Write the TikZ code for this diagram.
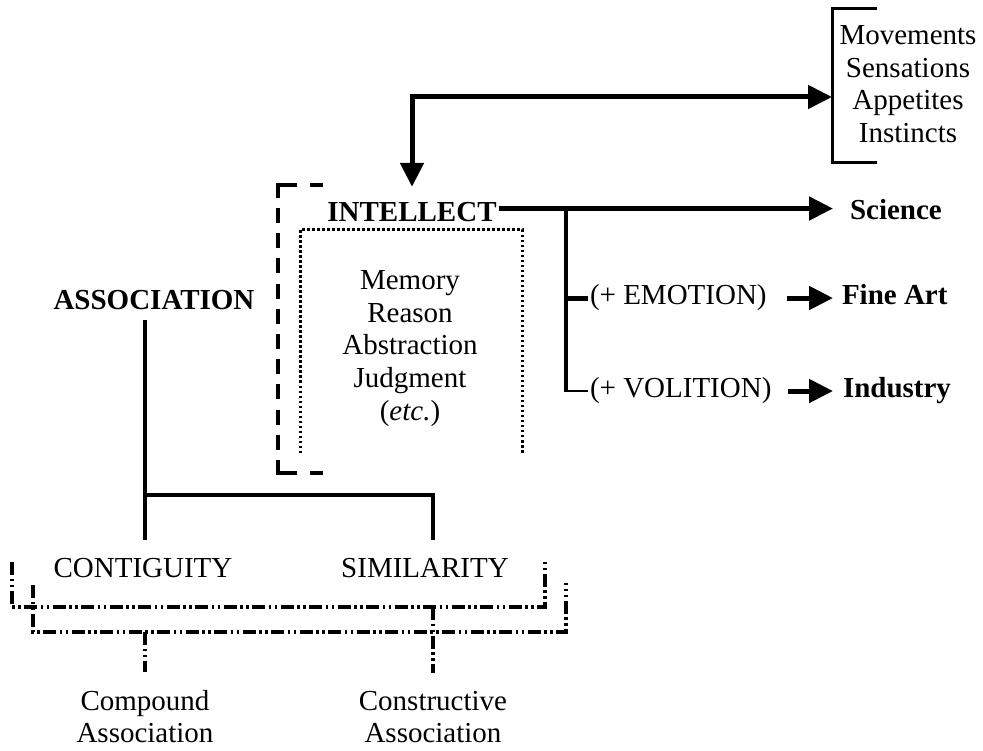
\documentclass[tikz,border=0pt]{standalone}
\usepackage{fontspec}
\setmainfont{Liberation Serif}
\usetikzlibrary{arrows.meta}
\begin{document}
\begin{tikzpicture}[x=1pt,y=-1pt,
  every node/.style={font=\fontsize{29}{32.5}\selectfont, inner sep=2pt, outer sep=0pt},
  txt/.style={anchor=base},
  addend/.style={anchor=base west},
  heading/.style={anchor=base, font=\fontsize{29}{32.5}\selectfont\bfseries},
  heavy/.style={line width=5pt},
  tree/.style={line width=4pt},
  arrowed/.style={-{Triangle[length=24pt,width=23pt]}},
  dashdot/.style={line width=3.5pt, dash pattern=on 13pt off 3.5pt on 2.5pt off 3.5pt on 2.5pt off 3.5pt},
  finedots/.style={line width=3pt, dash pattern=on 2.5pt off 2.5pt},
  bigdash/.style={line width=4.5pt}
]
\useasboundingbox (0,0) rectangle (983,751);

% --- bodily powers, bracketed on the left
\node[txt] (movements)  at (908,45)    {Movements};
\node[txt] (sensations) at (908,77.5)  {Sensations};
\node[txt] (appetites)  at (908,110)   {Appetites};
\node[txt] (instincts)  at (908,142.5) {Instincts};
\draw[line width=3pt] (877,9) -- (832,9) -- (832,163) -- (877,163);
\coordinate (senses) at (832,97);

% --- intellect and its link with the bodily powers
\node[heading] (intellect) at (412,222) {INTELLECT};
\draw[heavy, {Triangle[length=24pt,width=23pt]}-{Triangle[length=24pt,width=23pt]}, shorten <=14pt]
  (intellect.north) |- (senses);

% dashed bracket round the intellect
\draw[bigdash, dash pattern=on 15pt off 10.2pt] (278,182.75) -- (278,475.25);
\draw[bigdash, dash pattern=on 19pt off 13pt on 13pt off 20pt] (278,185) -- (323,185);
\draw[bigdash, dash pattern=on 19pt off 13pt on 13pt off 20pt] (278,473) -- (323,473);

% dotted box of faculties
\draw[finedots] (300,453) -- (300,230) -- (522,230) -- (522,453);
\node[txt] (memory)      at (410,290)   {Memory};
\node[txt] (reason)      at (410,322.5) {Reason};
\node[txt] (abstraction) at (410,355)   {Abstraction};
\node[txt] (judgment)    at (410,387.5) {Judgment};
\node[txt] (etc)         at (410,420)   {(\textit{etc.})};

% --- products of the intellect
\coordinate (ie) at ([yshift=4pt]intellect.east);
\node[heading, anchor=base west] (science)  at (848,220) {Science};
\node[addend] (emotion)  at (588,305) {(+ EMOTION)};
\node[addend] (volition) at (588,398) {(+ VOLITION)};
\node[heading, anchor=base west] (fineart)  at (840,305) {Fine Art};
\node[heading, anchor=base west] (industry) at (841,398) {Industry};

\draw[heavy, arrowed, shorten >=15pt] (ie) -- (ie -| science.west);
\coordinate (fork) at (566,208.4);
\draw[tree] (fork) -- (fork |- volition.west);
\draw[heavy] (fork |- emotion.west) -- (emotion.west);
\draw[line width=2.5pt] ([xshift=-2pt]fork |- volition.west) -- (volition.west);
\draw[heavy, arrowed] ([xshift=-53pt]emotion.east -| fineart.west) -- ([xshift=-7pt]emotion.east -| fineart.west);
\draw[heavy, arrowed] ([xshift=-53pt]volition.east -| industry.west) -- ([xshift=-8pt]volition.east -| industry.west);

% --- association and its two laws
\node[heading] (association) at (154,310) {ASSOCIATION};
\node[txt] (contiguity) at (143,577) {CONTIGUITY};
\node[txt] (similarity) at (425,577) {SIMILARITY};
\coordinate (cfoot) at (145,540);
\coordinate (sfoot) at (433,540);
\coordinate (join)  at (145,495);
\draw[tree] (association.south -| cfoot) ++(0,8) -- (cfoot);
\draw[tree] (join) -| (sfoot);

% dash-dot brackets under the laws
\draw[dashdot] (12,562) -- (12,607) -- (545,607) -- (545,562);
\draw[dashdot] (33,585) -- (33,632) -- (566,632) -- (566,583);

\node[txt] (compound)      at (145,710) {Compound};
\node[txt] (compoundassoc) at (145,742) {Association};
\node[txt] (constructive)  at (433,710) {Constructive};
\node[txt] (constructiveassoc) at (433,742) {Association};

\coordinate (lowbar) at (145,632);
\coordinate (upbar)  at (433,607);
\draw[dashdot, shorten >=16pt] (lowbar) -- (compound.north);
\draw[dashdot, shorten >=16pt] (upbar) -- (constructive.north);
\end{tikzpicture}
\end{document}
